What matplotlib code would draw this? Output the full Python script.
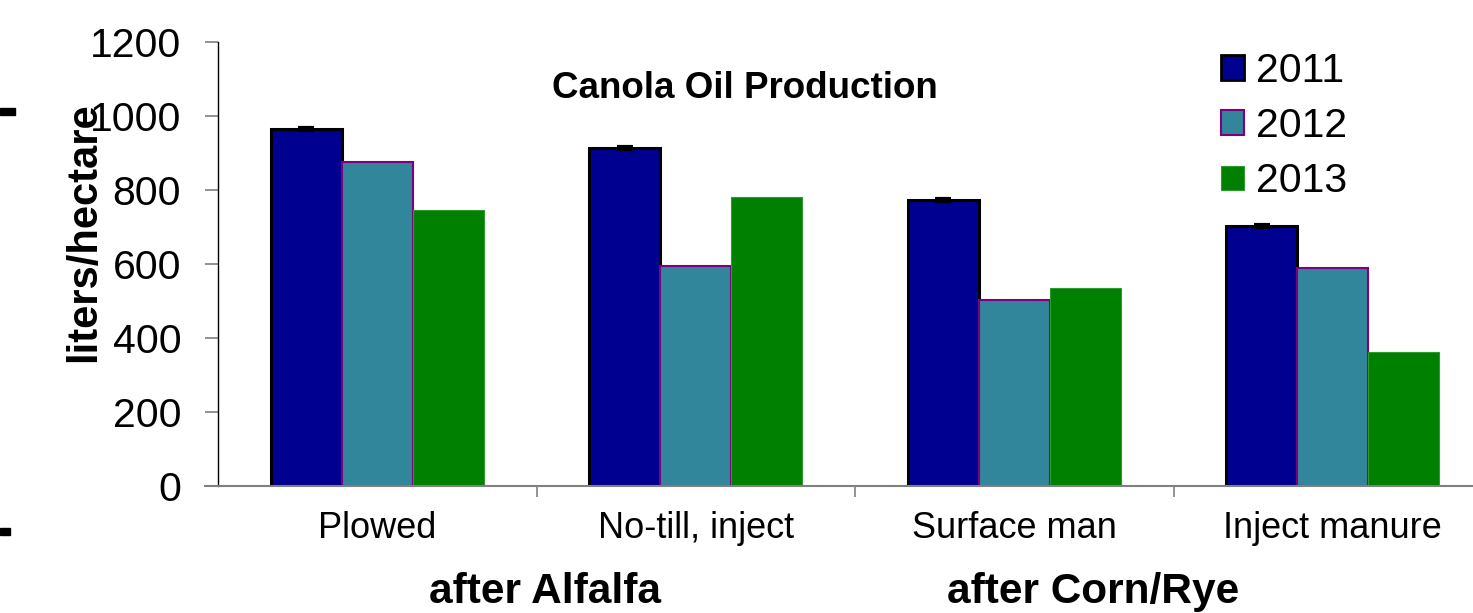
import matplotlib
matplotlib.use("Agg")
import matplotlib.pyplot as plt
import numpy as np
from matplotlib.patches import Rectangle, Patch

plt.rcParams['font.family'] = ['Liberation Sans', 'DejaVu Sans']

categories = ["Plowed", "No-till, inject", "Surface man", "Inject manure"]
groups = ["after Alfalfa", "after Corn/Rye"]
series_names = ["2011", "2012", "2013"]
v2011 = [964, 914, 773, 703]
v2012 = [875, 595, 503, 590]
v2013 = [746, 782, 534, 362]
err2011 = [3, 2, 3, 2]
yticks = [0, 200, 400, 600, 800, 1000, 1200]

W, H = 1473, 613
fig = plt.figure(figsize=(W / 100, H / 100), dpi=100)
ax = fig.add_axes([218 / W, 1 - 486 / H, 1274 / W, 444 / H])

x = np.arange(len(categories))
bw = 0.223
c11, c12, c13 = "#000090", "#31869C", "#008000"
ax.bar(x - bw, v2011, bw, color=c11, edgecolor="black", linewidth=2.2, zorder=2)
ax.bar(x, v2012, bw, color=c12, edgecolor="#7F007F", linewidth=1.5, zorder=2)
ax.bar(x + bw, v2013, bw, color=c13, edgecolor="#2E9A2E", linewidth=0.8, zorder=2)
ax.errorbar(x - bw, v2011, yerr=err2011, fmt="none", ecolor="black",
            elinewidth=2, capsize=6, capthick=3, zorder=3)

ax.set_xlim(-0.5, 3.5)
ax.set_ylim(0, 1200)
ax.set_yticks(yticks)
ax.set_yticklabels([str(t) for t in yticks], fontsize=29.5)
ax.set_xticks(x)
ax.set_xticklabels(categories, fontsize=26)
ax.set_xticks([0.5, 1.5, 2.5], minor=True)
ax.tick_params(axis="x", which="major", length=0, pad=18)
ax.tick_params(axis="x", which="minor", length=8, width=1.2, color="#808080")
ax.tick_params(axis="y", length=9.5, width=1.2, color="#808080", pad=17)

for s in ["top", "right"]:
    ax.spines[s].set_visible(False)
ax.spines["left"].set_color("black")
ax.spines["left"].set_linewidth(1.0)
ax.spines["bottom"].set_color("#808080")
ax.spines["bottom"].set_linewidth(1.5)
ax.spines["bottom"].set_bounds(-0.5 - 13 / 318.5, 3.5)

fig.text(84 / W, 1 - 232 / H, "liters/hectare", rotation=90, fontsize=30,
         fontweight="bold", ha="center", va="center")
fig.text(745 / W, 1 - 89 / H, "Canola Oil Production", fontsize=26.5,
         fontweight="bold", ha="center", va="center")
fig.text(545 / W, 1 - 592 / H, groups[0], fontsize=30.5, fontweight="bold",
         ha="center", va="center")
fig.text(1093 / W, 1 - 592 / H, groups[1], fontsize=30.5, fontweight="bold",
         ha="center", va="center")

handles = [Patch(facecolor=c11, edgecolor="black", linewidth=2),
           Patch(facecolor=c12, edgecolor="#7F007F", linewidth=1.5),
           Patch(facecolor=c13, edgecolor="#2E9A2E", linewidth=0.8)]
leg = fig.legend(handles, series_names, loc="upper left",
                 bbox_to_anchor=(1221 / W, 1 - 52 / H), frameon=False,
                 fontsize=29.5, handlelength=0.55, handleheight=0.55,
                 handletextpad=0.3, labelspacing=0.42, borderaxespad=0,
                 borderpad=0)

fig.add_artist(Rectangle((0, 1 - 115 / H), 15 / W, 7 / H, transform=fig.transFigure,
                         color="black"))
fig.add_artist(Rectangle((0, 1 - 535 / H), 10 / W, 7 / H, transform=fig.transFigure,
                         color="black"))

fig.savefig("out.png", dpi=100)
